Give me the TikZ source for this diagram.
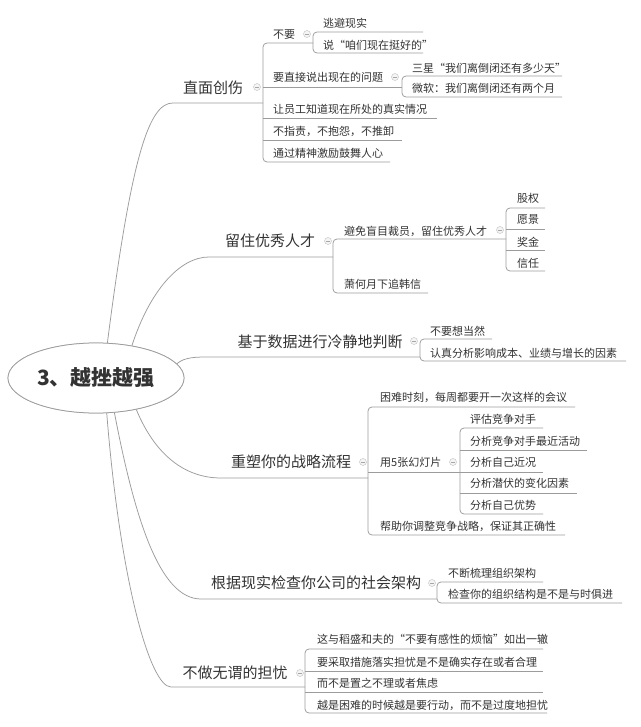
\documentclass[tikz,border=0pt]{standalone}
\usepackage{fontspec}
\setmainfont{Noto Sans CJK SC}
\usetikzlibrary{shapes.geometric}
\definecolor{txt}{HTML}{333333}
\definecolor{lnc}{HTML}{9C9C9C}
\tikzset{
  ln/.style={draw=lnc, line width=0.75pt, rounded corners=4pt},
  leaf/.style={font=\fontsize{11}{13}\selectfont, text=txt, inner sep=0pt, anchor=west},
  mainb/.style={font=\fontsize{15}{18}\selectfont, text=txt, inner sep=0pt},
  coll/.style={circle, draw=gray!50, fill=gray!8, minimum size=7pt, inner sep=0pt,
    path picture={\draw[gray!70, line width=0.6pt]
      ([xshift=-2pt]path picture bounding box.center) -- ([xshift=2pt]path picture bounding box.center);}},
}
\begin{document}
\begin{tikzpicture}[x=1pt,y=-1pt]
\useasboundingbox (0,0) rectangle (640,727);
\fill[white] (0,0) rectangle (640,727);

% root
\node[ellipse, draw=lnc, line width=0.75pt, fill=white, minimum width=166pt, minimum height=70pt,
  font=\fontsize{21}{25}\selectfont\bfseries, text=txt] (root) at (96,378) {3、越挫越强};

% curve ends
\coordinate (e1) at (177,103);
\coordinate (e2) at (213,257);
\coordinate (e3) at (215,357);
\coordinate (e4) at (225,478);
\coordinate (e5) at (205,599);
\coordinate (e6) at (175,687);

\draw[ln] (root.72) .. controls (132,150) and (150,103) .. (e1) -- (263,103);
\draw[ln] (root.42) .. controls (150,290) and (180,257) .. (e2) -- (333,257);
\draw[ln] (root.10) .. controls (185,357) and (195,357) .. (e3) -- (420,357);
\draw[ln] (root.-38) .. controls (155,455) and (185,478) .. (e4) -- (368,478);
\draw[ln] (root.-62) .. controls (135,520) and (160,599) .. (e5) -- (437,599);
\draw[ln] (root.-73) .. controls (120,580) and (150,687) .. (e6) -- (305,687);
\node[ellipse, draw=lnc, line width=0.75pt, fill=white, minimum width=166pt, minimum height=70pt,
  font=\fontsize{21}{25}\selectfont\bfseries, text=txt] (rootc) at (96,378) {3、越挫越强};

% ===== Branch 1
\node[mainb] (b1) at (213,88) {直面创伤};
\node[coll] (k1) at (257,87) {};
\draw[ln] (313,43) -- (263,43) -- (263,162) -- (390,162);
\node[leaf] (b11) at (273,35) {不要};
\node[coll] (k11) at (307,34) {};
\draw[ln] (423,32) -- (313,32) -- (313,53) -- (423,53);
\node[leaf] (b111) at (323,23) {逃避现实};
\node[leaf] (b112) at (323,45) {说“咱们现在挺好的”};
\node[leaf] (b12) at (273,77) {要直接说出现在的问题};
\node[coll] (k12) at (395,77) {};
\draw[ln] (263,87) -- (402,87);
\draw[ln] (562,76) -- (402,76) -- (402,97) -- (562,97);
\node[leaf] (b121) at (412,68) {三星“我们离倒闭还有多少天”};
\node[leaf] (b122) at (412,88) {微软：我们离倒闭还有两个月};
\node[leaf] (b13) at (273,109) {让员工知道现在所处的真实情况};
\draw[ln] (263,118) -- (437,118);
\node[leaf] (b14) at (273,131) {不指责，不抱怨，不推卸};
\draw[ln] (263,140) -- (402,140);
\node[leaf] (b15) at (273,153) {通过精神激励鼓舞人心};

% ===== Branch 2
\node[mainb] (b2) at (270,241) {留住优秀人才};
\node[coll] (k2) at (328,241) {};
\draw[ln] (506,239) -- (333,239) -- (333,293) -- (428,293);
\node[leaf] (b21) at (344,231) {避免盲目裁员，留住优秀人才};
\node[coll] (k21) at (500,230) {};
\draw[ln] (545,208) -- (506,208) -- (506,271) -- (545,271);
\draw[ln] (506,229) -- (545,229);
\draw[ln] (506,250) -- (545,250);
\node[leaf] (b211) at (517,198) {股权};
\node[leaf] (b212) at (517,220) {愿景};
\node[leaf] (b213) at (517,242) {奖金};
\node[leaf] (b214) at (517,263) {信任};
\node[leaf] (b22) at (344,284) {萧何月下追韩信};

% ===== Branch 3
\node[mainb] (b3) at (320,342) {基于数据进行冷静地判断};
\node[coll] (k3) at (414,341) {};
\draw[ln] (492,339) -- (420,339) -- (420,361) -- (626,361);
\node[leaf] (b31) at (430,331) {不要想当然};
\node[leaf] (b32) at (430,353) {认真分析影响成本、业绩与增长的因素};

% ===== Branch 4
\node[mainb] (b4) at (291,462) {重塑你的战略流程};
\node[coll] (k4) at (363,462) {};
\draw[ln] (575,407) -- (368,407) -- (368,535) -- (565,535);
\draw[ln] (368,472) -- (460,472);
\node[leaf] (b41) at (380,397) {困难时刻，每周都要开一次这样的会议};
\node[leaf] (b42) at (380,462) {用5张幻灯片};
\node[coll] (k42) at (453,462) {};
\draw[ln] (543,428) -- (460,428) -- (460,514) -- (543,514);
\draw[ln] (460,450) -- (587,450);
\draw[ln] (460,472) -- (543,472);
\draw[ln] (460,493) -- (577,493);
\node[leaf] (b421) at (470,419) {评估竞争对手};
\node[leaf] (b422) at (470,441) {分析竞争对手最近活动};
\node[leaf] (b423) at (470,462) {分析自己近况};
\node[leaf] (b424) at (470,483) {分析潜伏的变化因素};
\node[leaf] (b425) at (470,505) {分析自己优势};
\node[leaf] (b43) at (380,526) {帮助你调整竞争战略，保证其正确性};

% ===== Branch 5
\node[mainb] (b5) at (316,583) {根据现实检查你公司的社会架构};
\node[coll] (k5) at (432,583) {};
\draw[ln] (543,582) -- (437,582) -- (437,603) -- (622,603);
\node[leaf] (b51) at (448,573) {不断梳理组织架构};
\node[leaf] (b52) at (448,594) {检查你的组织结构是不是与时俱进};

% ===== Branch 6
\node[mainb] (b6) at (235,673) {不做无谓的担忧};
\node[coll] (k6) at (300,673) {};
\draw[ln] (543,649) -- (305,649) -- (305,713) -- (547,713);
\draw[ln] (305,671) -- (543,671);
\draw[ln] (305,692) -- (543,692);
\node[leaf] (b61) at (317,639) {这与稻盛和夫的“不要有感性的烦恼”如出一辙};
\node[leaf] (b62) at (317,662) {要采取措施落实担忧是不是确实存在或者合理};
\node[leaf] (b63) at (317,683) {而不是置之不理或者焦虑};
\node[leaf] (b64) at (317,705) {越是困难的时候越是要行动，而不是过度地担忧};
\end{tikzpicture}
\end{document}
